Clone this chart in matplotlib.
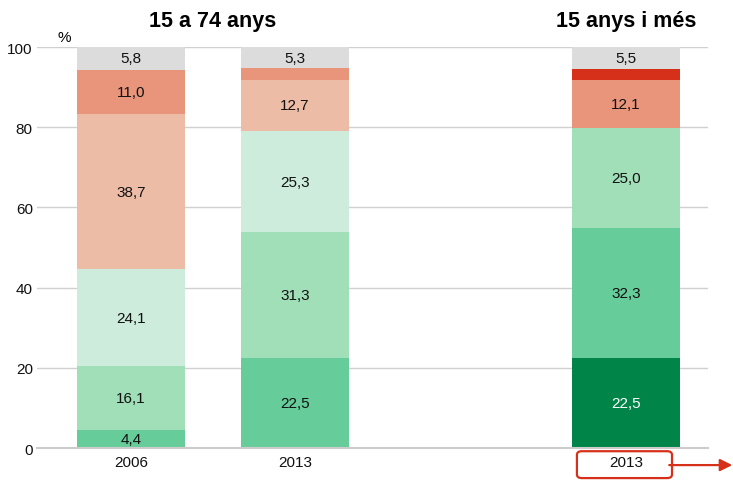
import matplotlib
matplotlib.use('Agg')
import matplotlib.pyplot as plt
from matplotlib.patches import FancyBboxPatch
from matplotlib.transforms import blended_transform_factory

plt.rcParams['font.family'] = ['Liberation Sans', 'DejaVu Sans']

# bar positions / labels
positions = [0, 1, 3.02]
xlabels = ['2006', '2013', '2013']

# segments, bottom to top (one value per bar)
seg1 = [4.4, 22.5, 22.5]
seg2 = [16.1, 31.3, 32.3]
seg3 = [24.1, 25.3, 25.0]
seg4 = [38.7, 12.7, 12.1]
seg5 = [11.0, 2.9, 2.6]
seg6 = [5.8, 5.3, 5.5]

# colours per bar (third bar uses a shifted palette)
col1 = ['#66cc99', '#66cc99', '#008448']
col2 = ['#a0dfb8', '#a0dfb8', '#66cc99']
col3 = ['#cdecdb', '#cdecdb', '#a0dfb8']
col4 = ['#edbca6', '#edbca6', '#e8957c']
col5 = ['#e8957c', '#e8957c', '#d7301a']
col6 = ['#dcdcdc', '#dcdcdc', '#dcdcdc']

segs = [seg1, seg2, seg3, seg4, seg5, seg6]
cols = [col1, col2, col3, col4, col5, col6]

fig = plt.figure(figsize=(7.33, 4.81), dpi=100)
ax = fig.add_axes([0.0505, 0.0665, 0.9155, 0.8335])

bottoms = [0.0, 0.0, 0.0]
for vals, cc in zip(segs, cols):
    ax.bar(positions, vals, width=0.66, bottom=bottoms, color=cc, zorder=2)
    for x, v, b, c in zip(positions, vals, bottoms, cc):
        if v >= 4:
            tc = 'white' if c == '#008448' else '#111111'
            ax.text(x, b + v / 2, f'{v:.1f}'.replace('.', ','), ha='center', va='center',
                    fontsize=11, color=tc, zorder=3)
    bottoms = [b + v for b, v in zip(bottoms, vals)]

ax.set_xlim(-0.573, 3.52)
ax.set_ylim(0, 100)
ax.set_yticks([0, 20, 40, 60, 80, 100])
ax.set_xticks(positions)
ax.set_xticklabels(xlabels)
ax.grid(axis='y', color='#d0d0d0', lw=1, zorder=0)
for s in ['left', 'right', 'top']:
    ax.spines[s].set_visible(False)
ax.spines['bottom'].set_color('#cccccc')
ax.spines['bottom'].set_linewidth(1.5)
ax.tick_params(axis='both', length=0, labelsize=11, colors='#111111')
ax.tick_params(axis='x', pad=5)
ax.tick_params(axis='y', pad=3)

tr = blended_transform_factory(ax.transData, ax.transAxes)
ax.text(-0.45, 100.8, '%', fontsize=11, ha='left', va='bottom')
ax.text(0.5, 1.052, '15 a 74 anys', transform=tr,
        ha='center', va='baseline', fontsize=15.5, fontweight='bold')
ax.text(3.02, 1.052, '15 anys i més', transform=tr,
        ha='center', va='baseline', fontsize=15.5, fontweight='bold')

red = '#d7301a'
box = FancyBboxPatch((3.02 - 0.30, -0.075), 0.58, 0.067, boxstyle='round,pad=0,rounding_size=0.03',
                     transform=tr, fc='none', ec=red, lw=1.6, clip_on=False,
                     mutation_aspect=0.3)
ax.add_patch(box)
ax.annotate('', xy=(0.999, 0.031), xytext=(0.913, 0.031), xycoords='figure fraction',
            arrowprops=dict(arrowstyle='-|>', color=red, lw=1.6, mutation_scale=18,
                            shrinkA=0, shrinkB=0))

fig.savefig('out.png', dpi=100)
